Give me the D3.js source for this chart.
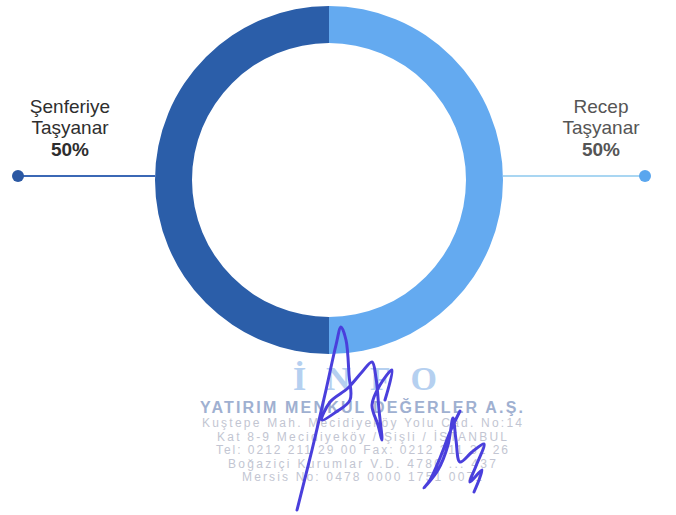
<!DOCTYPE html>
<html>
<head>
<meta charset="utf-8">
<script src="https://cdn.jsdelivr.net/npm/d3@7"></script>
<style>
body { margin: 0; background: #fff; }
svg { display: block; font-family: 'Liberation Sans', Arial, sans-serif; }
</style>
</head>
<body>
<svg></svg>
<script>
// Ownership split (clockwise from top)
var owners = ["Recep Taşyanar", "Şenferiye Taşyanar"];
var shares = [50, 50];
var sliceColors = ["#64aaf0", "#2b5ea9"];
var lineColors = ["#a9d6f2", "#3b68b5"];
var dotColors = ["#5aa6ee", "#2b58a3"];
var labelColors = ["#555555", "#2e2e2e"];

// Stamp text
var stampLines = [
  "Kuştepe Mah. Mecidiyeköy Yolu Cad. No:14",
  "Kat 8-9 Mecidiyeköy / Şişli / İSTANBUL",
  "Tel: 0212 211 29 00 Fax: 0212 211 31 26",
  "Boğaziçi Kurumlar V.D. 4780 ... 437",
  "Mersis No: 0478 0000 1751 0071"
];
var stampWidths = [320, 290, 292, 268, 240];

var width = 676, height = 515;
var cx = 329, cy = 180;
var outerR = 174, innerR = 137;

var svg = d3.select("svg").attr("width", width).attr("height", height);

var pie = d3.pie().sort(null).value(function (d) { return d; });
var arc = d3.arc().innerRadius(innerR).outerRadius(outerR);
var arcs = pie(shares);

var g = svg.append("g").attr("transform", "translate(" + cx + "," + cy + ")");
g.selectAll("path.slice").data(arcs).enter().append("path")
  .attr("class", "slice")
  .attr("d", arc)
  .attr("fill", function (d, i) { return sliceColors[i]; });

// leader lines + labels
var dotX = [645, 18];
var textX = [601, 70];
var leadY = cy - 4;

arcs.forEach(function (a, i) {
  var mid = (a.startAngle + a.endAngle) / 2;
  var side = Math.sin(mid) > 0 ? 1 : -1;
  var edgeX = cx + side * Math.sqrt(outerR * outerR - 16);
  svg.append("line")
    .attr("x1", edgeX).attr("x2", dotX[i])
    .attr("y1", leadY).attr("y2", leadY)
    .attr("stroke", lineColors[i]).attr("stroke-width", 2);
  svg.append("circle")
    .attr("cx", dotX[i]).attr("cy", leadY).attr("r", 6)
    .attr("fill", dotColors[i]);
  var words = owners[i].split(" ");
  var lbl = svg.append("text")
    .attr("text-anchor", "middle")
    .attr("fill", labelColors[i])
    .attr("font-size", 19);
  lbl.append("tspan").attr("x", textX[i]).attr("y", leadY - 63).text(words[0]);
  lbl.append("tspan").attr("x", textX[i]).attr("y", leadY - 42).text(words[1]);
  lbl.append("tspan").attr("x", textX[i]).attr("y", leadY - 20)
    .attr("font-weight", "bold").text(d3.format(".0f")(shares[i]) + "%");
});

// stamp
var stamp = svg.append("g").attr("opacity", 0.85);
stamp.append("text").attr("x", 293).attr("y", 390)
  .attr("font-family", "'Liberation Serif', serif").attr("font-weight", "bold")
  .attr("font-size", 34).attr("textLength", 144).attr("lengthAdjust", "spacing")
  .attr("fill", "#a9c8ee")
  .text("İNFO");
stamp.append("text").attr("x", 200).attr("y", 413)
  .attr("font-weight", "bold").attr("font-size", 16).attr("fill", "#8fa3c9")
  .attr("textLength", 323).attr("lengthAdjust", "spacing")
  .text("YATIRIM MENKUL DEĞERLER A.Ş.");
stamp.selectAll("text.addr").data(stampLines).enter().append("text")
  .attr("class", "addr")
  .attr("x", function (d, i) { return 362 - stampWidths[i] / 2; })
  .attr("y", function (d, i) { return 427 + i * 13.5; })
  .attr("font-size", 12)
  .attr("textLength", function (d, i) { return stampWidths[i]; })
  .attr("lengthAdjust", "spacing")
  .attr("fill", "#b8bccb").text(function (d) { return d; });

// signature
var sig1 = [[297,510],[312,450],[326,390],[336,345],[341,327],[346,340],[349,375],[350,400],[336,412],[322,420],[330,402],[348,388],[362,372],[372,362],[376,378],[379,410],[382,440],[378,425],[372,405],[380,385],[392,370],[385,400]];
var sig2 = [[460,411],[450,432],[440,458],[430,480],[424,488],[438,470],[448,445],[453,418],[456,440],[460,462],[472,452],[484,444],[476,466],[470,482],[482,470],[474,492]];
var sigLine = d3.line().curve(d3.curveCatmullRom.alpha(0.5));
[sig1, sig2].forEach(function (s) {
  svg.append("path").attr("d", sigLine(s))
    .attr("fill", "none").attr("stroke", "#4a3fdc")
    .attr("stroke-width", 3).attr("stroke-linejoin", "round").attr("stroke-linecap", "round");
});
</script>
</body>
</html>
